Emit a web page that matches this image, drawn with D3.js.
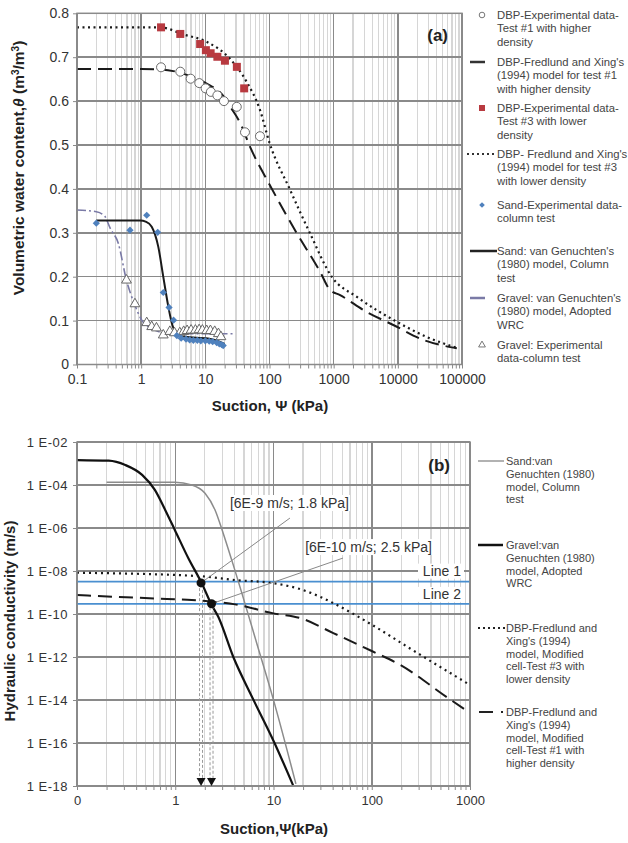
<!DOCTYPE html>
<head>
<meta charset="utf-8">
<script src="https://d3js.org/d3.v7.min.js"></script>
<style>
    body { margin: 0; background: #fff; font-family: "Liberation Sans", Arial, sans-serif; }
    .grid-minor { stroke: #d6d6d6; stroke-width: 1.2px; shape-rendering: crispEdges; }
    .grid-major { stroke: #8a8a8a; stroke-width: 1.5px; shape-rendering: crispEdges; }
    .axis line { stroke: #8a8a8a; }
    .axis path { display: none; }
    .axis text { fill: #333; }
    .legend text { fill: #444; }
    .title { font-weight: bold; fill: #222; }
</style>
</head>

<body>
<div id="chart"></div>
<script>
    // ---------------- panel (a): water retention curves ----------------
    var test1Suction = [2.04, 4.07, 5.9, 8.05, 10.1, 12.2, 15.4, 19.5, 30.9, 41.5, 71];
    var test1Theta   = [0.677, 0.667, 0.651, 0.641, 0.629, 0.621, 0.613, 0.600, 0.587, 0.529, 0.520];

    var test3Suction = [2.04, 4.07, 8.3, 10.2, 12.1, 15.4, 20.2, 31, 40.3];
    var test3Theta   = [0.768, 0.753, 0.730, 0.716, 0.709, 0.701, 0.692, 0.678, 0.629];

    var fx1Suction = [0.1, 1, 2, 4, 7, 10.5, 19, 25, 35, 50, 100, 250, 615, 875, 1260, 3240, 8500, 25000, 83000];
    var fx1Theta   = [0.673, 0.673, 0.672, 0.665, 0.652, 0.640, 0.612, 0.585, 0.550, 0.495, 0.410, 0.306, 0.211, 0.170, 0.158, 0.120, 0.090, 0.056, 0.037];

    var fx3Suction = [0.1, 2, 4.5, 10.5, 24, 44, 71, 100, 209, 427, 933, 2300, 9600, 28000, 87000];
    var fx3Theta   = [0.768, 0.768, 0.752, 0.735, 0.697, 0.644, 0.580, 0.505, 0.398, 0.299, 0.200, 0.154, 0.0975, 0.063, 0.037];

    var sandSuction = [0.2, 0.67, 1.22, 1.81, 2.21, 2.72, 3.2, 3.6, 4.2, 5, 5.7, 6.5, 7.5, 8.5, 10, 11.5, 13, 15, 16.5, 18, 19];
    var sandTheta   = [0.322, 0.306, 0.340, 0.301, 0.164, 0.130, 0.101, 0.066, 0.060, 0.058, 0.056, 0.055, 0.055, 0.054, 0.054, 0.053, 0.052, 0.050, 0.047, 0.045, 0.043];

    var sandVgSuction = [0.2, 0.96, 1.2, 1.46, 1.85, 2.21, 2.65, 3.06, 3.57, 4.8, 11, 18, 20];
    var sandVgTheta   = [0.328, 0.328, 0.325, 0.314, 0.268, 0.200, 0.132, 0.090, 0.071, 0.063, 0.059, 0.050, 0.047];

    var gravelVgSuction = [0.1, 0.2, 0.27, 0.33, 0.44, 0.59, 0.8, 1.02, 1.46, 2.35, 4, 29];
    var gravelVgTheta   = [0.352, 0.348, 0.338, 0.310, 0.276, 0.192, 0.135, 0.101, 0.082, 0.072, 0.070, 0.070];

    var gravelSuction = [0.59, 0.8, 1.22, 1.46, 1.73, 2.21, 2.8, 3.3, 4, 4.6, 5.2, 6, 7, 8, 9, 10.5, 12, 14, 16, 17.5];
    var gravelTheta   = [0.192, 0.138, 0.095, 0.086, 0.083, 0.067, 0.075, 0.072, 0.072, 0.075, 0.077, 0.078, 0.078, 0.079, 0.078, 0.077, 0.077, 0.075, 0.070, 0.063];

    var thetaTicks = [0, 0.1, 0.2, 0.3, 0.4, 0.5, 0.6, 0.7, 0.8];

    // ---------------- panel (b): hydraulic conductivity ----------------
    var gravelKSuction = [0.1, 0.21, 0.31, 0.46, 0.62, 0.79, 0.99, 1.36, 1.86, 2.35, 2.74, 3.9, 6.2, 10.1, 15.8];
    var gravelK        = [1.45e-3, 1.35e-3, 8.5e-4, 2.95e-4, 5.9e-5, 6.9e-6, 8.1e-7, 3.9e-8, 2.7e-9, 2.6e-10, 7.4e-11, 1.0e-12, 1.1e-14, 1.15e-16, 1.1e-18];

    var sandKSuction = [0.2, 0.99, 1.47, 2.01, 2.54, 3.08, 3.76, 6.75, 9.96, 16.9];
    var sandK        = [1.35e-4, 1.35e-4, 1.0e-4, 4.1e-5, 6.9e-6, 5.6e-7, 3.2e-8, 4.4e-12, 1.07e-14, 1.26e-18];

    var dbp3KSuction = [0.1, 1.79, 4.06, 10, 18.6, 30, 40.6, 100, 245, 1000];
    var dbp3K        = [8.3e-9, 5.75e-9, 3.8e-9, 2.7e-9, 1.45e-9, 6.2e-10, 3.2e-10, 3.2e-11, 2.5e-12, 5e-14];

    var dbp1KSuction = [0.1, 0.82, 1.47, 2.3, 4.06, 10, 18.6, 40.6, 100, 195, 575, 930];
    var dbp1K        = [7.6e-10, 5e-10, 4.5e-10, 3.8e-10, 2.8e-10, 1.07e-10, 6.5e-11, 1.3e-11, 1.9e-12, 4.3e-13, 1.4e-14, 3.1e-15];

    var refLineK = [3.2e-9, 2.95e-10];               // Line 1, Line 2
    var refLineNames = ["Line 1", "Line 2"];
    var hitSuction = [1.83, 2.34];                   // intersection dots
    var hitK = [2.8e-9, 3.0e-10];
    var hitLabels = ["[6E-9 m/s; 1.8 kPa]", "[6E-10 m/s; 2.5 kPa]"];
    var hitLabelSuction = [3.6, 21];
    var hitLabelK = [8.5e-6, 7.6e-8];
    var leaderSuction = [14.7, 51];
    var leaderK = [2.9e-6, 4e-8];

    var kTicks = [1e-2, 1e-4, 1e-6, 1e-8, 1e-10, 1e-12, 1e-14, 1e-16, 1e-18];

    function zip(a, b) { return a.map(function (v, i) { return [v, b[i]]; }); }

    var svg = d3.select("#chart").append("svg")
        .attr("width", 628)
        .attr("height", 843);

    function logGrid(g, x, top, bottom, e0, e1) {
        var majors = [], minors = [];
        for (var e = e0; e <= e1; e++) {
            var d = Math.pow(10, e);
            majors.push(d);
            if (e < e1) for (var k = 2; k < 10; k++) minors.push(k * d);
        }
        g.selectAll(null).data(minors).enter().append("line")
            .attr("class", "grid-minor")
            .attr("x1", x).attr("x2", x).attr("y1", top).attr("y2", bottom);
        return { majors: majors, minors: minors };
    }

    // ================= PANEL A =================
    var ga = svg.append("g");
    var xa = d3.scaleLog().domain([0.1, 100000]).range([77, 462]);
    var ya = d3.scaleLinear().domain([0, 0.8]).range([364.5, 13.3]);

    var ta = logGrid(ga, xa, 13.3, 364.5, -1, 5);
    ga.selectAll(null).data(ta.majors).enter().append("line")
        .attr("class", "grid-major")
        .attr("x1", xa).attr("x2", xa).attr("y1", 13.3).attr("y2", 364.5);
    ga.selectAll(null).data(thetaTicks).enter().append("line")
        .attr("class", "grid-major")
        .attr("x1", 77).attr("x2", 462).attr("y1", ya).attr("y2", ya);

    ga.append("g").attr("class", "axis")
        .attr("transform", "translate(0,364.5)")
        .call(d3.axisBottom(xa).tickValues(ta.majors.concat(ta.minors)).tickSize(4).tickPadding(6)
            .tickFormat(function (d) { return ta.majors.indexOf(d) >= 0 ? String(d) : ""; }))
        .selectAll("text").style("font-size", "14px");

    ga.append("g").attr("class", "axis")
        .attr("transform", "translate(77,0)")
        .call(d3.axisLeft(ya).tickValues(thetaTicks).tickSize(4).tickPadding(4)
            .tickFormat(function (d) { return d === 0 ? "0" : d3.format(".1f")(d); }))
        .selectAll("text").style("font-size", "14px");

    var lineA = d3.line()
        .x(function (d) { return xa(d[0]); })
        .y(function (d) { return ya(d[1]); })
        .curve(d3.curveMonotoneX);

    ga.append("path").datum(zip(gravelVgSuction, gravelVgTheta)).attr("d", lineA)
        .attr("fill", "none").attr("stroke", "#7a7aa6").attr("stroke-width", 1.6)
        .attr("stroke-dasharray", "9,3,2,3");
    ga.append("path").datum(zip(sandVgSuction, sandVgTheta)).attr("d", lineA)
        .attr("fill", "none").attr("stroke", "#1a1a1a").attr("stroke-width", 2);
    ga.append("path").datum(zip(fx1Suction, fx1Theta)).attr("d", lineA)
        .attr("fill", "none").attr("stroke", "#1a1a1a").attr("stroke-width", 2)
        .attr("stroke-dasharray", "14,7");
    ga.append("path").datum(zip(fx3Suction, fx3Theta)).attr("d", lineA)
        .attr("fill", "none").attr("stroke", "#1a1a1a").attr("stroke-width", 2.2)
        .attr("stroke-dasharray", "2,3.5");

    // markers
    ga.selectAll(null).data(zip(gravelSuction, gravelTheta)).enter().append("path")
        .attr("d", d3.symbol().type(d3.symbolTriangle).size(42))
        .attr("transform", function (d) { return "translate(" + xa(d[0]) + "," + ya(d[1]) + ")"; })
        .attr("fill", "#fff").attr("stroke", "#666").attr("stroke-width", 1);
    ga.selectAll(null).data(zip(sandSuction, sandTheta)).enter().append("path")
        .attr("d", d3.symbol().type(d3.symbolSquare).size(26))
        .attr("transform", function (d) { return "translate(" + xa(d[0]) + "," + ya(d[1]) + ") rotate(45)"; })
        .attr("fill", "#4f81bd");
    ga.selectAll(null).data(zip(test1Suction, test1Theta)).enter().append("circle")
        .attr("cx", function (d) { return xa(d[0]); })
        .attr("cy", function (d) { return ya(d[1]); })
        .attr("r", 4.5)
        .attr("fill", "#fff").attr("stroke", "#6a6a6a").attr("stroke-width", 1);
    ga.selectAll(null).data(zip(test3Suction, test3Theta)).enter().append("rect")
        .attr("x", function (d) { return xa(d[0]) - 4; })
        .attr("y", function (d) { return ya(d[1]) - 4; })
        .attr("width", 8).attr("height", 8)
        .attr("fill", "#b83a40");

    ga.append("rect").attr("x", 77).attr("y", 13.3).attr("width", 385).attr("height", 351.2)
        .attr("fill", "none").attr("stroke", "#8a8a8a").attr("stroke-width", 1.5);

    ga.append("text").attr("class", "title").attr("x", 448).attr("y", 41)
        .attr("text-anchor", "end").style("font-size", "17px").text("(a)");

    ga.append("text").attr("class", "title")
        .attr("x", 270).attr("y", 411).attr("text-anchor", "middle").style("font-size", "15px")
        .text("Suction, \u03a8 (kPa)");
    var yTitleA = ga.append("text").attr("class", "title")
        .attr("transform", "translate(24,168) rotate(-90)")
        .attr("text-anchor", "middle").style("font-size", "15.5px");
    yTitleA.append("tspan").text("Volumetric water content,");
    yTitleA.append("tspan").style("font-style", "italic").text("\u03b8");
    yTitleA.append("tspan").text(" (m");
    yTitleA.append("tspan").attr("baseline-shift", "super").style("font-size", "10px").text("3");
    yTitleA.append("tspan").text("/m");
    yTitleA.append("tspan").attr("baseline-shift", "super").style("font-size", "10px").text("3");
    yTitleA.append("tspan").text(")");

    // legend (a)
    var legendA = [
        { y: 15,  kind: "circle",  lines: ["DBP-Experimental data-", "Test #1 with higher", "density"] },
        { y: 62,  kind: "solid",   lines: ["DBP-Fredlund and Xing's", "(1994) model for test #1", "with higher density"] },
        { y: 108, kind: "square",  lines: ["DBP-Experimental data-", "Test #3  with lower", "density"] },
        { y: 154, kind: "dotted",  lines: ["DBP- Fredlund and Xing's", "(1994) model for test #3", "with lower density"] },
        { y: 205, kind: "diamond", lines: ["Sand-Experimental data-", "column test"] },
        { y: 251, kind: "black",   lines: ["Sand: van Genuchten's", "(1980) model, Column", "test"] },
        { y: 298, kind: "gravel",  lines: ["Gravel: van Genuchten's", "(1980) model, Adopted", "WRC"] },
        { y: 345, kind: "triangle", lines: ["Gravel: Experimental", "data-column test"] }
    ];
    var lga = svg.append("g").attr("class", "legend");
    legendA.forEach(function (it) {
        var g = lga.append("g");
        if (it.kind === "circle") g.append("circle").attr("cx", 482).attr("cy", it.y).attr("r", 2.8)
            .attr("fill", "#fff").attr("stroke", "#777");
        if (it.kind === "square") g.append("rect").attr("x", 479).attr("y", it.y - 3).attr("width", 6).attr("height", 6)
            .attr("fill", "#b83a40");
        if (it.kind === "diamond") g.append("path").attr("d", d3.symbol().type(d3.symbolSquare).size(16))
            .attr("transform", "translate(482," + it.y + ") rotate(45)").attr("fill", "#4f81bd");
        if (it.kind === "triangle") g.append("path").attr("d", d3.symbol().type(d3.symbolTriangle).size(20))
            .attr("transform", "translate(482," + it.y + ")").attr("fill", "#fff").attr("stroke", "#777");
        if (it.kind === "solid") g.append("line").attr("x1", 470).attr("x2", 485).attr("y1", it.y).attr("y2", it.y)
            .attr("stroke", "#333").attr("stroke-width", 2.5);
        if (it.kind === "dotted") g.append("line").attr("x1", 467).attr("x2", 497).attr("y1", it.y).attr("y2", it.y)
            .attr("stroke", "#333").attr("stroke-width", 2).attr("stroke-dasharray", "2,3");
        if (it.kind === "black") g.append("line").attr("x1", 470).attr("x2", 497).attr("y1", it.y).attr("y2", it.y)
            .attr("stroke", "#222").attr("stroke-width", 2.5);
        if (it.kind === "gravel") g.append("line").attr("x1", 470).attr("x2", 485).attr("y1", it.y).attr("y2", it.y)
            .attr("stroke", "#7a7aa6").attr("stroke-width", 2.5);
        it.lines.forEach(function (t, i) {
            g.append("text").attr("x", 497).attr("y", it.y + 4 + i * 13.4)
                .style("font-size", "11.3px").text(t);
        });
    });

    // ================= PANEL B =================
    var gb = svg.append("g");
    var xb = d3.scaleLog().domain([0.1, 1000]).range([77, 470]);
    var yb = d3.scaleLog().domain([1e-18, 1e-2]).range([786, 442]);

    var tb = logGrid(gb, xb, 442, 786, -1, 3);
    gb.selectAll(null).data(tb.majors).enter().append("line")
        .attr("class", "grid-major")
        .attr("x1", xb).attr("x2", xb).attr("y1", 442).attr("y2", 786);
    gb.selectAll(null).data(kTicks).enter().append("line")
        .attr("class", "grid-major")
        .attr("x1", 77).attr("x2", 470).attr("y1", yb).attr("y2", yb);

    gb.append("g").attr("class", "axis")
        .attr("transform", "translate(0,786)")
        .call(d3.axisBottom(xb).tickValues(tb.majors.concat(tb.minors)).tickSize(4).tickPadding(6)
            .tickFormat(function (d) {
                if (tb.majors.indexOf(d) < 0) return "";
                return d < 1 ? "0" : String(d);
            }))
        .selectAll("text").style("font-size", "13px");

    gb.append("g").attr("class", "axis")
        .attr("transform", "translate(77,0)")
        .call(d3.axisLeft(yb).tickValues(kTicks).tickSize(4).tickPadding(5)
            .tickFormat(function (d) {
                var e = -Math.round(Math.log10(d));
                return "1 E-" + (e < 10 ? "0" + e : e);
            }))
        .selectAll("text").style("font-size", "13px").style("letter-spacing", "0.5px");

    var lineB = d3.line()
        .x(function (d) { return xb(d[0]); })
        .y(function (d) { return yb(d[1]); })
        .curve(d3.curveMonotoneX);

    // reference lines
    gb.selectAll(null).data(refLineK).enter().append("line")
        .attr("x1", 77).attr("x2", 470).attr("y1", yb).attr("y2", yb)
        .attr("stroke", "#4a8fd0").attr("stroke-width", 1.6);

    gb.append("path").datum(zip(sandKSuction, sandK)).attr("d", lineB)
        .attr("fill", "none").attr("stroke", "#8c8c8c").attr("stroke-width", 1.5);
    gb.append("path").datum(zip(gravelKSuction, gravelK)).attr("d", lineB)
        .attr("fill", "none").attr("stroke", "#111").attr("stroke-width", 2.2);
    gb.append("path").datum(zip(dbp3KSuction, dbp3K)).attr("d", lineB)
        .attr("fill", "none").attr("stroke", "#1a1a1a").attr("stroke-width", 2.2)
        .attr("stroke-dasharray", "2,4");
    gb.append("path").datum(zip(dbp1KSuction, dbp1K)).attr("d", lineB)
        .attr("fill", "none").attr("stroke", "#1a1a1a").attr("stroke-width", 2)
        .attr("stroke-dasharray", "14,7");

    gb.append("rect").attr("x", 77).attr("y", 442).attr("width", 393).attr("height", 344)
        .attr("fill", "none").attr("stroke", "#8a8a8a").attr("stroke-width", 1.5);

    // Line 1 / Line 2 labels
    refLineNames.forEach(function (t, i) {
        var yy = yb(refLineK[i]) - (i === 0 ? 6 : 5);
        gb.append("rect").attr("x", 418).attr("y", yy - 12).attr("width", 46).attr("height", 15).attr("fill", "#fff");
        gb.append("text").attr("x", 461).attr("y", yy).attr("text-anchor", "end")
            .style("font-size", "14px").style("fill", "#333").text(t);
    });

    // leaders, annotations, dots, arrows
    hitLabels.forEach(function (t, i) {
        gb.append("line")
            .attr("x1", xb(leaderSuction[i])).attr("y1", yb(leaderK[i]))
            .attr("x2", xb(hitSuction[i])).attr("y2", yb(hitK[i]))
            .attr("stroke", "#888").attr("stroke-width", 1);
        var tx = xb(hitLabelSuction[i]), ty = yb(hitLabelK[i]);
        var txt = gb.append("text").attr("x", tx).attr("y", ty)
            .style("font-size", "14px").style("fill", "#333").text(t);
        var bb = txt.node().getBBox();
        gb.insert("rect", function () { return txt.node(); })
            .attr("x", bb.x - 1).attr("y", bb.y).attr("width", bb.width + 2).attr("height", bb.height)
            .attr("fill", "#fff");

        var ax = xb(hitSuction[i]);
        gb.append("rect").attr("x", ax - 1.5).attr("y", yb(hitK[i]))
            .attr("width", 3).attr("height", 779 - yb(hitK[i]))
            .attr("fill", "none").attr("stroke", "#999").attr("stroke-width", 1)
            .attr("stroke-dasharray", "3,2");
        gb.append("path").attr("d", "M-4.5,-8L4.5,-8L0,0Z")
            .attr("transform", "translate(" + ax + "," + yb(1e-18) + ")")
            .attr("fill", "#111");
        gb.append("circle").attr("cx", ax).attr("cy", yb(hitK[i])).attr("r", 4.5).attr("fill", "#111");
    });

    gb.append("text").attr("class", "title").attr("x", 450).attr("y", 471)
        .attr("text-anchor", "end").style("font-size", "17px").text("(b)");

    gb.append("text").attr("class", "title")
        .attr("x", 274).attr("y", 834).attr("text-anchor", "middle").style("font-size", "15px")
        .text("Suction,\u03a8(kPa)");
    gb.append("text").attr("class", "title")
        .attr("transform", "translate(15,621) rotate(-90)")
        .attr("text-anchor", "middle").style("font-size", "15px")
        .text("Hydraulic conductivity (m/s)");

    // legend (b)
    var legendB = [
        { y: 461, kind: "thin",   lines: ["Sand:van", "Genuchten (1980)", "model, Column", "test"] },
        { y: 545, kind: "thick",  lines: ["Gravel:van", "Genuchten (1980)", "model, Adopted", "WRC"] },
        { y: 628, kind: "dotted", lines: ["DBP-Fredlund and", "Xing's (1994)", "model, Modified", "cell-Test #3 with", "lower density"] },
        { y: 712, kind: "dashed", lines: ["DBP-Fredlund and", "Xing's (1994)", "model, Modified", "cell-Test #1 with", "higher density"] }
    ];
    var lgb = svg.append("g").attr("class", "legend");
    legendB.forEach(function (it) {
        var g = lgb.append("g");
        if (it.kind === "thin") g.append("line").attr("x1", 478).attr("x2", 504).attr("y1", it.y).attr("y2", it.y)
            .attr("stroke", "#999").attr("stroke-width", 1.5);
        if (it.kind === "thick") g.append("line").attr("x1", 478).attr("x2", 503).attr("y1", it.y).attr("y2", it.y)
            .attr("stroke", "#111").attr("stroke-width", 2.5);
        if (it.kind === "dotted") g.append("line").attr("x1", 478).attr("x2", 505).attr("y1", it.y).attr("y2", it.y)
            .attr("stroke", "#222").attr("stroke-width", 2).attr("stroke-dasharray", "2,3");
        if (it.kind === "dashed") g.append("line").attr("x1", 479).attr("x2", 505).attr("y1", it.y).attr("y2", it.y)
            .attr("stroke", "#222").attr("stroke-width", 2).attr("stroke-dasharray", "14,8,2,10");
        it.lines.forEach(function (t, i) {
            g.append("text").attr("x", 506).attr("y", it.y + 4 + i * 12.8)
                .style("font-size", "11px").text(t);
        });
    });
</script>
</body>
